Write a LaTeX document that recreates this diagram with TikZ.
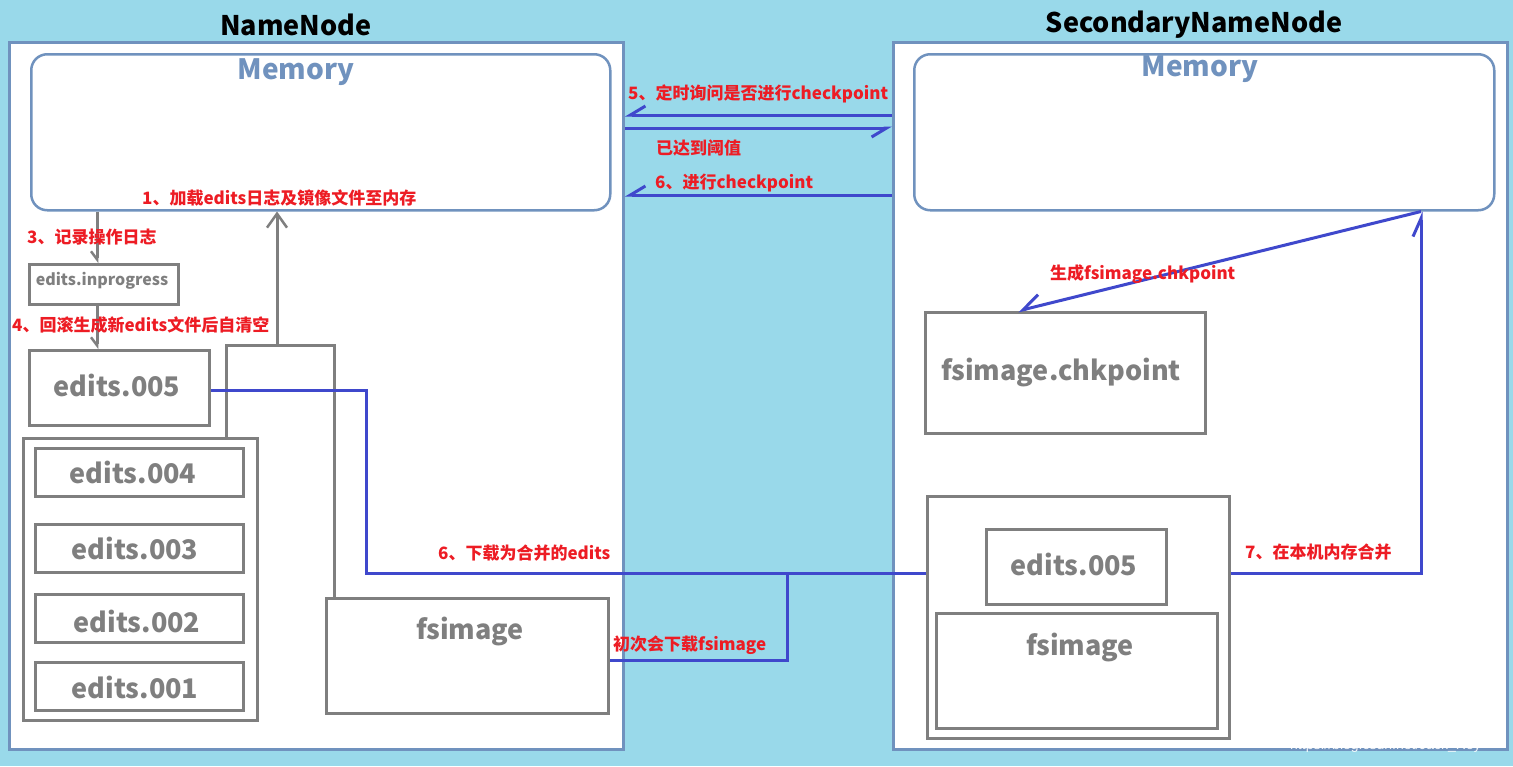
\documentclass[tikz,border=0pt]{standalone}
\usepackage{fontspec}
\setmainfont{Noto Sans CJK SC}
\newfontfamily\wmfont{Liberation Sans}
\usetikzlibrary{arrows.meta}
\definecolor{bgblue}{RGB}{153,217,234}
\definecolor{steel}{RGB}{112,146,190}
\definecolor{ggray}{RGB}{127,127,127}
\definecolor{indigo}{RGB}{63,72,204}
\definecolor{lred}{RGB}{237,28,36}
\tikzset{
  outerbox/.style={draw=steel, line width=3pt, fill=white, inner sep=0pt, anchor=north west},
  membox/.style={draw=steel, line width=2.5pt, fill=white, rounded corners=16pt, inner sep=0pt, anchor=north west},
  gbox/.style={draw=ggray, line width=3pt, fill=white, inner sep=0pt, anchor=north west},
  title/.style={font=\fontsize{27}{30}\selectfont\bfseries, text=black, inner sep=0pt},
  memtxt/.style={font=\fontsize{28}{30}\selectfont\bfseries, text=steel, inner sep=0pt},
  bigtxt/.style={font=\fontsize{27}{30}\selectfont\bfseries, text=ggray, inner sep=0pt},
  smalltxt/.style={font=\fontsize{16}{18}\selectfont\bfseries, text=ggray, inner sep=0pt},
  lbl/.style={font=\fontsize{17}{19}\selectfont\bfseries, text=lred, inner sep=0pt, anchor=west},
  gline/.style={draw=ggray, line width=3pt},
  bline/.style={draw=indigo, line width=3pt},
  bhalf/.style={-{Straight Barb[right, length=15pt, width=18pt, line width=3pt]}},
  bhalfl/.style={-{Straight Barb[left, length=18pt, width=16pt, line width=3pt]}},
  ghalf/.style={-{Straight Barb[right, length=8pt, width=12pt, line width=2.5pt]}},
}
\begin{document}
\begin{tikzpicture}[x=1pt,y=-1pt]
\fill[bgblue] (0,0) rectangle (1513,766);
\useasboundingbox (0,0) rectangle (1513,766);

% outer boxes and titles
\node[outerbox, minimum width=614pt, minimum height=707pt] (nn) at (8,41) {};
\node[outerbox, minimum width=614pt, minimum height=707pt] (sn) at (892,41) {};
\node[title] (nnt) at (296,25) {NameNode};
\node[title] (snt) at (1194,25) {SecondaryNameNode};

% memory boxes
\node[membox, minimum width=579pt, minimum height=156pt] (mem) at (30,53) {};
\node[memtxt] (memt) at (296,72) {Memory};
\node[membox, minimum width=580pt, minimum height=156pt] (smem) at (913,53) {};
\node[memtxt] (smemt) at (1200,69) {Memory};

% NameNode files
\node[gbox, minimum width=149pt, minimum height=40pt] (inprog) at (28,263) {};
\node[smalltxt] (inprogt) at (102,281) {edits.inprogress};
\node[gbox, minimum width=180pt, minimum height=75pt] (e5) at (28,349) {};
\node[bigtxt] (e5t) at (117,385) {edits.005};
\node[gbox, minimum width=234pt, minimum height=282pt] (oldc) at (22,437) {};
\node[gbox, minimum width=208pt, minimum height=48pt] (e4) at (34,447) {};
\node[bigtxt] (e4t) at (133,472) {edits.004};
\node[gbox, minimum width=208pt, minimum height=48pt] (e3) at (34,523) {};
\node[bigtxt] (e3t) at (135,548) {edits.003};
\node[gbox, minimum width=208pt, minimum height=48pt] (e2) at (34,593) {};
\node[bigtxt] (e2t) at (137,621) {edits.002};
\node[gbox, minimum width=208pt, minimum height=48pt] (e1) at (34,661) {};
\node[bigtxt] (e1t) at (135,687) {edits.001};
\node[gbox, minimum width=282pt, minimum height=115pt] (fsimg) at (325,597) {};
\node[bigtxt] (fsimgt) at (470,631) {fsimage};

% Secondary files
\node[gbox, minimum width=280pt, minimum height=121pt] (chk) at (924,311) {};
\node[bigtxt] (chkt) at (1061,373) {fsimage.chkpoint};
\node[gbox, minimum width=302pt, minimum height=242pt] (sc) at (926,495) {};
\node[gbox, minimum width=180pt, minimum height=75pt] (se5) at (985,528) {};
\node[bigtxt] (se5t) at (1074,564) {edits.005};
\node[gbox, minimum width=281pt, minimum height=115pt] (sfs) at (935,612) {};
\node[bigtxt] (sfst) at (1080,647) {fsimage};

% helper coordinates
\coordinate (c97) at (97,0);
\coordinate (jl) at (226,345);
\coordinate (jm) at (277,345);
\coordinate (jr) at (334,345);
\coordinate (b1) at (366,390);
\coordinate (b2) at (366,573);
\coordinate (b3) at (787,660);
\coordinate (b4) at (1421,573);
\coordinate (h5) at (0,115);
\coordinate (h2) at (0,128);
\coordinate (h6) at (0,195);
\coordinate (dchk) at (1018,0);

% gray connectors
\draw[gline, ghalf] (mem.south -| c97) -- (inprog.north -| c97);
\draw[gline, ghalf] (inprog.south -| c97) -- (e5.north -| c97);
\draw[gline] (oldc.north -| jl) -- (jl) -- (jr) -- (fsimg.north -| jr);
\draw[gline, -{Straight Barb[length=14pt, width=20pt, line width=2.5pt]}] (jm) -- (mem.south -| jm);

% blue connectors
\draw[bline] (e5.east |- b1) -- (b1) -- (b2) -- (sc.west |- b2);
\draw[bline] (fsimg.east |- b3) -- (b3) -- (b3 |- b2);
\draw[bline, bhalfl] (sc.east |- b4) -- (b4) -- (smem.south -| b4);
\draw[bline, bhalf] (sn.west |- h5) -- (nn.east |- h5);
\draw[bline, bhalf] (nn.east |- h2) -- (sn.west |- h2);
\draw[bline, bhalf] (sn.west |- h6) -- (nn.east |- h6);
\draw[bline, -{Straight Barb[right, length=18pt, width=22pt, line width=3pt]}] (smem.south -| b4) -- (chk.north -| dchk);

% labels
\node[lbl] (l5) at (628,94) {5、定时询问是否进行checkpoint};
\node[lbl] (lth) at (656,148) {已达到阈值};
\node[lbl] (l6) at (655,183) {6、进行checkpoint};
\node[lbl] (l1) at (142,198) {1、加载edits日志及镜像文件至内存};
\node[lbl] (l3) at (27,237) {3、记录操作日志};
\node[lbl] (l4) at (12,325) {4、回滚生成新edits文件后自清空};
\node[lbl] (l6b) at (438,553) {6、下载为合并的edits};
\node[lbl] (lfi) at (613,645) {初次会下载fsimage};
\node[lbl] (lgen) at (1050,274) {生成fsimage.chkpoint};
\node[lbl] (l7) at (1245,552) {7、在本机内存合并};

% watermark
\node[font=\wmfont\fontsize{14}{16}\selectfont, text=white, opacity=0.9, anchor=west, inner sep=0pt] (wm) at (1290,746) {https://blog.csdn.net/Jack\_Roy};
\end{tikzpicture}
\end{document}
